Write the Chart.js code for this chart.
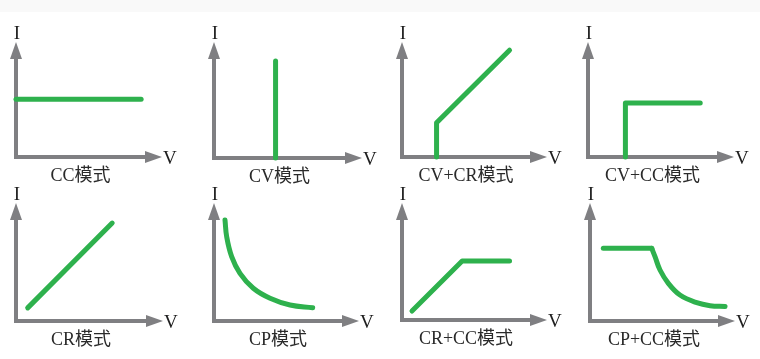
<!DOCTYPE html>
<html><head><meta charset="utf-8">
<script src="https://cdn.jsdelivr.net/npm/chart.js@4"></script>
<style>
html,body{margin:0;padding:0;background:#fff;width:760px;height:359px;overflow:hidden;position:relative}
#band{position:absolute;left:0;top:0;width:760px;height:12px;background:#f9f9f9}
canvas{position:absolute}
</style></head><body>
<div id="band"></div>
<script>
// ---- data ----
const modeNames = ['CC模式', 'CV模式', 'CV+CR模式', 'CV+CC模式', 'CR模式', 'CP模式', 'CR+CC模式', 'CP+CC模式'];
const axisLabelI = 'I';
const axisLabelV = 'V';
const axisMax = 10;
const ccV = [0, 9.7], ccI = [5.9, 5.9];
const cvV = [4.7, 4.7], cvI = [0, 9.8];
const cvcrV = [2.7, 2.7, 8.4], cvcrI = [0, 3.5, 10.9];
const cvccV = [2.9, 2.9, 8.7], cvccI = [0, 5.5, 5.5];
const crV = [0.9, 7.4], crI = [1.3, 9.7];
const cpV = [0.86, 0.99, 1.38, 2.03, 3.07, 4.38, 5.94, 7.71];
const cpI = [10.0, 8.35, 6.37, 4.72, 3.24, 2.25, 1.58, 1.32];
const crccV = [0.78, 4.7, 8.4], crccI = [0.9, 5.9, 5.9];
const cpccFlatV = [1.04, 4.82], cpccFlatI = [7.2, 7.2];
const cpccCurveV = [4.82, 5.08, 5.47, 6.12, 7.03, 8.34, 9.38, 10.55];
const cpccCurveI = [7.2, 6.37, 5.05, 3.73, 2.57, 1.81, 1.52, 1.43];

// ---- panel contents ----
const panels = [
  {series: [[ccV, ccI, false]]},
  {series: [[cvV, cvI, false]]},
  {series: [[cvcrV, cvcrI, false]]},
  {series: [[cvccV, cvccI, false]]},
  {series: [[crV, crI, false]]},
  {series: [[cpV, cpI, true]]},
  {series: [[crccV, crccI, false]]},
  {series: [[cpccFlatV, cpccFlatI, false], [cpccCurveV, cpccCurveI, true]]}
];

// ---- layout (pixels) ----
const boxes = [
  {left: 0,   top: 0,   w: 190, h: 190, ox: 16,  oy: 157, bx: 145, by: 59},
  {left: 190, top: 0,   w: 190, h: 190, ox: 214, oy: 158, bx: 345, by: 59},
  {left: 380, top: 0,   w: 190, h: 190, ox: 402, oy: 157, bx: 530, by: 59},
  {left: 570, top: 0,   w: 190, h: 190, ox: 588, oy: 157, bx: 717, by: 59},
  {left: 0,   top: 180, w: 190, h: 179, ox: 16,  oy: 321, bx: 146, by: 220},
  {left: 190, top: 180, w: 190, h: 179, ox: 214, oy: 321, bx: 342, by: 220},
  {left: 380, top: 180, w: 190, h: 179, ox: 402, oy: 320, bx: 530, by: 220},
  {left: 570, top: 180, w: 190, h: 179, ox: 590, oy: 321, bx: 718, by: 220}
];

const GRAY = '#7f7f82';
const GREEN = '#2eb14d';
const ARROW_LEN = 17, ARROW_W = 12;

// arrowhead image: centre of image = arrow base, tip points right
const arrowImg = document.createElement('canvas');
arrowImg.width = ARROW_LEN * 2; arrowImg.height = ARROW_W;
{
  const c = arrowImg.getContext('2d');
  c.fillStyle = GRAY;
  c.beginPath();
  c.moveTo(ARROW_LEN, 0);
  c.lineTo(ARROW_LEN * 2, ARROW_W / 2);
  c.lineTo(ARROW_LEN, ARROW_W);
  c.closePath();
  c.fill();
}

const labelPlugin = {
  id: 'modeLabels',
  afterDatasetsDraw(chart, args, opts) {
    const ctx = chart.ctx;
    const xs = chart.scales.x, ys = chart.scales.y;
    const x0 = xs.getPixelForValue(0), y0 = ys.getPixelForValue(0);
    const xEnd = xs.getPixelForValue(axisMax), yEnd = ys.getPixelForValue(axisMax);
    ctx.save();
    ctx.fillStyle = '#1e1e1e';
    ctx.font = '19px "Liberation Serif", "Noto Sans CJK SC", serif';
    ctx.textAlign = 'center';
    ctx.textBaseline = 'alphabetic';
    ctx.fillText(axisLabelI, x0 + 1, yEnd - ARROW_LEN - 3);
    ctx.textAlign = 'left';
    ctx.fillText(axisLabelV, xEnd + ARROW_LEN + 1, y0 + 7);
    ctx.fillStyle = '#2a2a2a';
    ctx.font = '18px "Liberation Serif", "Noto Sans CJK SC", serif';
    ctx.textAlign = 'center';
    ctx.textBaseline = 'middle';
    ctx.fillText(opts.caption, (x0 + xEnd) / 2, y0 + 19);
    ctx.restore();
  }
};

panels.forEach((p, i) => {
  const b = boxes[i];
  const cv = document.createElement('canvas');
  cv.width = b.w; cv.height = b.h;
  cv.style.left = b.left + 'px'; cv.style.top = b.top + 'px';
  document.body.appendChild(cv);

  const datasets = [];
  datasets.push({
    data: [{x: 0, y: axisMax}, {x: 0, y: 0}, {x: axisMax, y: 0}],
    borderColor: GRAY, borderWidth: 4, borderJoinStyle: 'miter', borderCapStyle: 'butt',
    pointRadius: 0, tension: 0, clip: false, order: 3
  });
  datasets.push({
    data: [{x: 0, y: axisMax}, {x: axisMax, y: 0}],
    showLine: false, pointStyle: arrowImg, pointRadius: 6, pointRotation: [-90, 0],
    clip: false, order: 2
  });
  p.series.forEach(([vs, is, curved]) => {
    datasets.push({
      data: vs.map((v, k) => ({x: v, y: is[k]})),
      borderColor: GREEN, borderWidth: 5, borderCapStyle: 'round', borderJoinStyle: 'round',
      pointRadius: 0, clip: false, order: 1,
      tension: curved ? 0.4 : 0
    });
  });

  new Chart(cv, {
    type: 'line',
    data: {datasets},
    plugins: [labelPlugin],
    options: {
      responsive: false, animation: false, devicePixelRatio: 1,
      layout: {padding: {left: b.ox - b.left, right: b.left + b.w - b.bx, top: b.by - b.top, bottom: b.top + b.h - b.oy}},
      scales: {
        x: {type: 'linear', min: 0, max: axisMax, display: false},
        y: {type: 'linear', min: 0, max: axisMax, display: false}
      },
      plugins: {legend: {display: false}, tooltip: {enabled: false}, modeLabels: {caption: modeNames[i]}},
      events: []
    }
  });
});
</script>
</body></html>
